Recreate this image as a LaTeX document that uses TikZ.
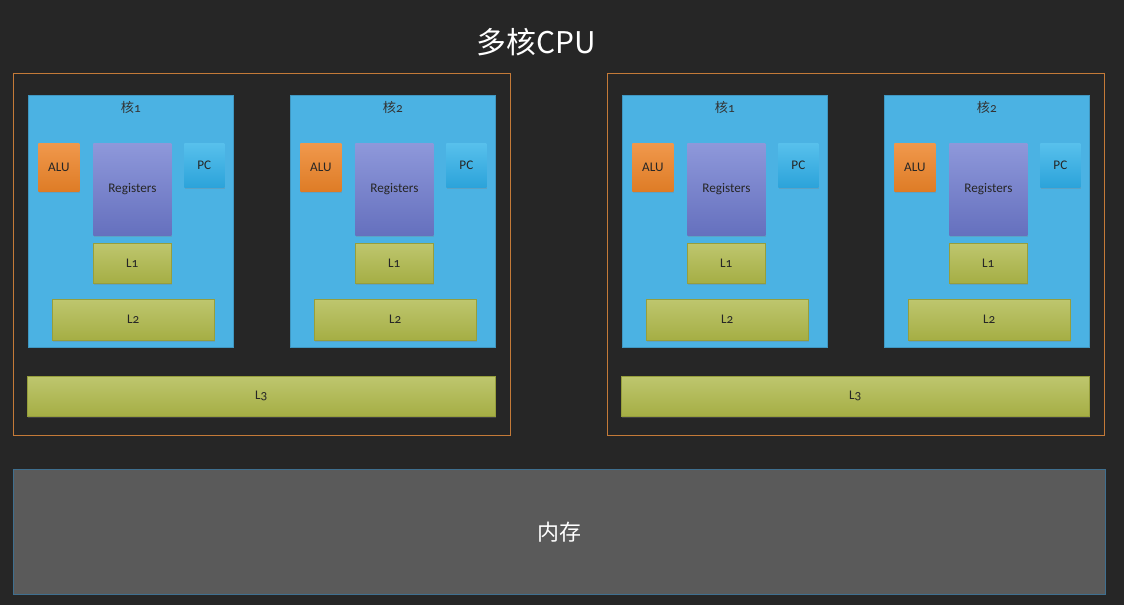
\documentclass[tikz,border=0pt]{standalone}
\usepackage{fontspec}
\setmainfont{Carlito}[Numbers=OldStyle]
\newfontfamily\cjk{Noto Sans CJK SC}
\usetikzlibrary{positioning, shadows}

\definecolor{board}{HTML}{262626}
\definecolor{framecol}{HTML}{C47A38}
\definecolor{corefill}{HTML}{4BB2E3}
\definecolor{memfill}{HTML}{5A5A5A}
\definecolor{memline}{HTML}{3F6F8F}

\begin{document}
\begin{tikzpicture}[font=\fontsize{7.5}{9}\selectfont, inner sep=0pt]
    \tikzstyle{unit} = [rectangle, anchor=north west, text=black!85, drop shadow={shadow xshift=0.6pt, shadow yshift=-0.8pt, opacity=0.3}]
    \tikzstyle{alu} = [unit, top color={rgb,255:red,240;green,152;blue,76}, bottom color={rgb,255:red,222;green,124;blue,38}, minimum width=0.82cm, minimum height=0.96cm]
    \tikzstyle{regs} = [unit, top color={rgb,255:red,142;green,152;blue,218}, bottom color={rgb,255:red,101;green,112;blue,190}, minimum width=1.56cm, minimum height=1.84cm]
    \tikzstyle{pc} = [unit, top color={rgb,255:red,88;green,192;blue,236}, bottom color={rgb,255:red,44;green,163;blue,218}, minimum width=0.8cm, minimum height=0.88cm]
    \tikzstyle{cache} = [unit, top color={rgb,255:red,190;green,198;blue,110}, bottom color={rgb,255:red,165;green,174;blue,68}, draw={rgb,255:red,150;green,158;blue,60}, line width=0.3pt]
    \tikzstyle{core} = [rectangle, anchor=north west, fill=corefill, draw=corefill!85!black, line width=0.4pt, minimum width=4.1cm, minimum height=5.04cm]
    \tikzstyle{cpuframe} = [rectangle, anchor=north west, draw=framecol, line width=0.7pt, minimum width=9.94cm, minimum height=7.24cm]
    \tikzstyle{memory} = [rectangle, anchor=north west, fill=memfill, draw=memline, line width=0.6pt, minimum width=21.84cm, minimum height=2.5cm, text=white, font=\cjk\fontsize{12.5}{14}\selectfont]

    % chalkboard
    \fill[board] (0,0) rectangle (22.48,-12.1);

    \node (title) at (10.72,-0.84) [text=white, font=\cjk\fontsize{17}{20}\selectfont] {多核CPU};

    \foreach \p/\px in {1/0, 2/11.88} {
        \node (cpu\p) [cpuframe] at (0.26+\px,-1.46) {};
        \foreach \cc/\cx in {1/0, 2/5.24} {
            \node (core\p\cc) [core] at (0.56+\px+\cx,-1.9) {};
            \node (name\p\cc) [below=0.13cm of core\p\cc.north, text=black!80] {{\cjk 核}\cc};
            \node (alu\p\cc) [alu, below right=0.96cm and 0.2cm of core\p\cc.north west] {ALU};
            \node (regs\p\cc) [regs, below right=0.96cm and 1.3cm of core\p\cc.north west] {Registers};
            \node (pc\p\cc) [pc, below right=0.96cm and 3.12cm of core\p\cc.north west] {PC};
            \node (lone\p\cc) [cache, minimum width=1.56cm, minimum height=0.8cm, below right=2.96cm and 1.3cm of core\p\cc.north west] {L1};
            \node (ltwo\p\cc) [cache, minimum width=3.24cm, minimum height=0.82cm, below right=4.08cm and 0.48cm of core\p\cc.north west] {L2};
        }
        \node (lthree\p) [cache, minimum width=9.36cm, minimum height=0.8cm] at (0.54+\px,-7.52) {L3};
    }

    \node (mem) [memory] at (0.26,-9.38) {内存};
\end{tikzpicture}
\end{document}
